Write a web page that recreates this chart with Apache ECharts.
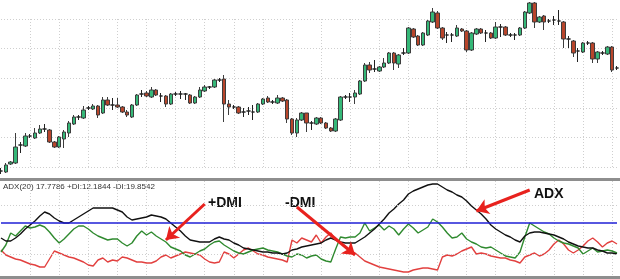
<!DOCTYPE html>
<html>
<head>
<meta charset="utf-8">
<script src="https://cdn.jsdelivr.net/npm/echarts@6/dist/echarts.min.js"></script>
<style>
  html, body { margin: 0; padding: 0; background: #fff; }
  #chart { width: 620px; height: 279px; }
</style>
</head>
<body>
<div id="chart"></div>
<script>
// price candles: [open, close, low, high]
const candles = [
  [-4,-4,-7,-1],[-5,2,-6,4],[3,5,2,6],[4,20,3,34],[22,22,14,25],[21,31,20,34],[31,31,29,33],[29,34,28,39],
  [34,38,33,42],[38,38,35,43],[37,25,24,38],[25,20,19,26],[20,30,19,31],[28,35,19,37],[34,44,30,46],[43,50,42,52],
  [50,50,47,52],[49,57,48,61],[59,59,57,61],[58,61,57,63],[61,52,49,62],[54,67,53,70],[67,62,61,70],[62,62,57,69],
  [62,60,59,69],[60,55,54,61],[55,52,50,57],[50,62,49,63],[62,72,61,73],[73,73,70,77],[74,71,70,76],[70,77,69,80],
  [77,72,71,78],[71,71,65,74],[71,63,60,72],[63,73,62,74],[73,73,71,75],[73,73,68,76],[73,73,67,74],[72,64,63,73],
  [64,70,63,71],[70,77,69,80],[76,80,75,82],[80,80,78,81],[80,87,79,88],[87,87,85,89],[88,63,45,92],[63,60,52,67],
  [60,60,58,62],[60,54,53,61],[55,55,50,59],[56,56,52,60],[55,55,47,62],[55,63,54,64],[63,68,62,69],[69,65,64,71],
  [65,65,63,67],[64,69,63,72],[69,66,65,70],[67,48,44,68],[48,34,32,49],[34,47,30,49],[47,54,46,55],[54,44,35,54],
  [44,44,37,46],[43,49,42,50],[49,44,43,50],[44,39,38,45],[39,36,35,40],[36,48,35,49],[47,70,46,71],[70,70,68,72],
  [70,70,65,74],[70,74,63,77],[73,86,72,87],[86,102,85,104],[102,97,94,105],[98,98,95,107],[96,100,95,101],[100,104,99,109],
  [104,114,103,115],[114,104,97,115],[103,112,99,113],[114,114,112,119],[114,139,113,140],[138,130,129,139],[131,122,121,132],[122,134,121,135],
  [132,146,131,147],[145,155,144,159],[154,139,138,156],[139,129,127,140],[132,132,124,135],[132,132,125,134],[131,139,130,142],[138,136,135,139],
  [136,117,115,137],[117,134,116,135],[133,138,132,139],[138,134,133,139],[134,134,125,137],[134,129,128,135],[129,140,128,145],[140,140,130,143],
  [140,132,131,141],[132,132,130,134],[132,132,127,134],[132,139,131,140],[139,155,138,156],[154,164,153,165],[164,145,139,165],[145,150,144,151],
  [151,145,137,152],[146,146,144,148],[147,147,142,151],[146,146,142,157],[145,128,119,146],[128,128,119,131],[126,114,110,127],[116,116,105,119],
  [115,124,114,125],[124,124,122,126],[124,108,104,125],[108,115,104,116],[114,114,112,116],[113,120,112,121],[120,97,95,121],[99,99,97,101]
];

const adx = [
  39,36,36,39,43,48,52,56,61,65,63,59,56,54,54,57,60,63,66,69,69,69,69,69,67,65,60,57,58,59,60,62,
  61,60,58,54,50,46,41,37,36,35,35,35,38,40,38,37,34,32,29,28,27,26,25,25,24,24,23,24,27,28,30,31,
  32,33,34,37,39,37,35,34,34,34,37,40,44,48,53,58,64,68,73,77,83,86,88,90,92,93,93,90,87,85,82,80,
  76,71,67,63,58,52,48,45,42,40,37,35,41,44,45,45,44,43,42,40,38,35,33,31,30,29,29,27,26,24,24,23
];
const plusDI = [
  25,32,44,41,46,51,49,50,52,50,45,39,34,38,43,48,51,51,48,44,41,39,37,38,38,34,31,34,41,46,42,45,
  41,38,35,30,28,26,22,20,23,26,28,32,35,36,32,29,26,24,23,25,27,28,29,27,26,25,23,21,20,23,22,19,
  21,22,18,16,15,28,40,39,40,40,44,54,46,49,52,47,51,48,42,48,53,49,44,47,50,58,55,50,44,39,40,44,
  38,35,33,30,29,30,27,24,21,20,19,25,40,54,51,48,45,43,39,36,34,33,31,29,23,26,29,25,26,27,26,24
];
const minusDI = [
  27,22,20,18,17,15,13,12,10,10,18,26,24,22,20,19,17,15,12,11,17,19,15,17,16,20,19,17,15,15,14,14,
  16,20,22,19,21,23,25,24,23,22,18,15,14,15,25,23,19,23,27,29,26,23,22,20,19,18,17,15,37,34,39,37,
  35,42,34,40,44,37,34,31,27,24,20,16,14,12,10,9,8,7,6,5,5,7,8,9,9,8,7,20,22,21,23,26,
  28,30,23,24,23,21,20,19,19,17,16,14,20,22,24,21,23,27,33,37,33,27,24,27,31,36,39,35,30,34,36,33
];

const bars = candles.map((_, i) => String(i));
const adxLevel = 54;
const dottedLevels = [72, 23];
const legendText = 'ADX(20) 17.7786 +DI:12.1844 -DI:19.8542';
// annotation arrows in the indicator panel: [barIndex, value] from -> to
const arrowLines = [
  [[41.9, 73], [34.3, 37]],
  [[61.1, 70], [73.1, 22]],
  [[108.7, 87], [98.4, 66]]
];
const arrowTexts = ['+DMI', '-DMI', 'ADX'];

const gridDots = { color: '#cfcfcf', type: [1, 2], width: 1 };
const vSplit = { show: true, interval: (i) => i > 0 && i % 6 === 0, lineStyle: gridDots };

const catAxis = (gridIndex) => ({
  type: 'category', gridIndex, data: bars, boundaryGap: false,
  axisLine: { show: false }, axisTick: { show: false }, axisLabel: { show: false },
  splitLine: vSplit
});

const chart = echarts.init(document.getElementById('chart'));
chart.setOption({
  animation: false,
  backgroundColor: '#fff',
  grid: [
    { left: 1, right: 3, top: 19, bottom: 112 },
    { left: 1, right: 3, top: 181, bottom: 2 }
  ],
  xAxis: [catAxis(0), catAxis(1)],
  yAxis: [
    {
      type: 'value', gridIndex: 0, min: 0, max: 148, interval: 29.6,
      axisLine: { show: false }, axisTick: { show: false }, axisLabel: { show: false },
      splitLine: { show: true, lineStyle: gridDots }
    },
    {
      type: 'value', gridIndex: 1, min: 0, max: 96,
      axisLine: { show: false }, axisTick: { show: false }, axisLabel: { show: false },
      splitLine: { show: false }
    }
  ],
  series: [
    {
      type: 'candlestick', xAxisIndex: 0, yAxisIndex: 0, data: candles, clip: false,
      barWidth: 4,
      itemStyle: {
        color: '#35b878', color0: '#b8452b',
        borderColor: '#3d3d3d', borderColor0: '#3d3d3d', borderColorDoji: '#222',
        borderWidth: 1
      }
    },
    {
      name: '-DI', type: 'line', xAxisIndex: 1, yAxisIndex: 1, data: minusDI,
      showSymbol: false, lineStyle: { color: '#e2403f', width: 1.4 },
      markLine: {
        silent: true, symbol: 'none', label: { show: false },
        data: [
          { yAxis: adxLevel, lineStyle: { color: '#1f1fd6', type: 'solid', width: 1.5 } },
          ...dottedLevels.map(v => ({ yAxis: v, lineStyle: gridDots }))
        ]
      }
    },
    {
      name: '+DI', type: 'line', xAxisIndex: 1, yAxisIndex: 1, data: plusDI,
      showSymbol: false, lineStyle: { color: '#2f8a2f', width: 1.4 }
    },
    {
      name: 'ADX', type: 'line', xAxisIndex: 1, yAxisIndex: 1, data: adx,
      showSymbol: false, lineStyle: { color: '#111', width: 1.4 },
      markLine: {
        silent: true, symbol: ['none', 'arrow'], symbolSize: [12, 12], label: { show: false },
        lineStyle: { color: '#e8221e', type: 'solid', width: 3 },
        data: arrowLines.map(a => [{ coord: a[0] }, { coord: a[1] }])
      }
    }
  ],
  graphic: [
    { type: 'rect', left: 0, top: 178, shape: { width: 620, height: 3 }, style: { fill: '#8e8e8e' }, silent: true },
    { type: 'rect', left: 0, top: 276, shape: { width: 620, height: 3 }, style: { fill: '#8e8e8e' }, silent: true },
    { type: 'text', left: 3, top: 183, style: { text: legendText, fill: '#333', font: '8px "Liberation Sans", Arial, sans-serif' } },
    { type: 'text', left: 208, top: 196, style: { text: arrowTexts[0], fill: '#111', font: 'bold 14px "Liberation Sans", Arial, sans-serif' } },
    { type: 'text', left: 285, top: 196, style: { text: arrowTexts[1], fill: '#111', font: 'bold 14px "Liberation Sans", Arial, sans-serif' } },
    { type: 'text', left: 534, top: 187, style: { text: arrowTexts[2], fill: '#111', font: 'bold 14px "Liberation Sans", Arial, sans-serif' } }
  ]
});
</script>
</body>
</html>
